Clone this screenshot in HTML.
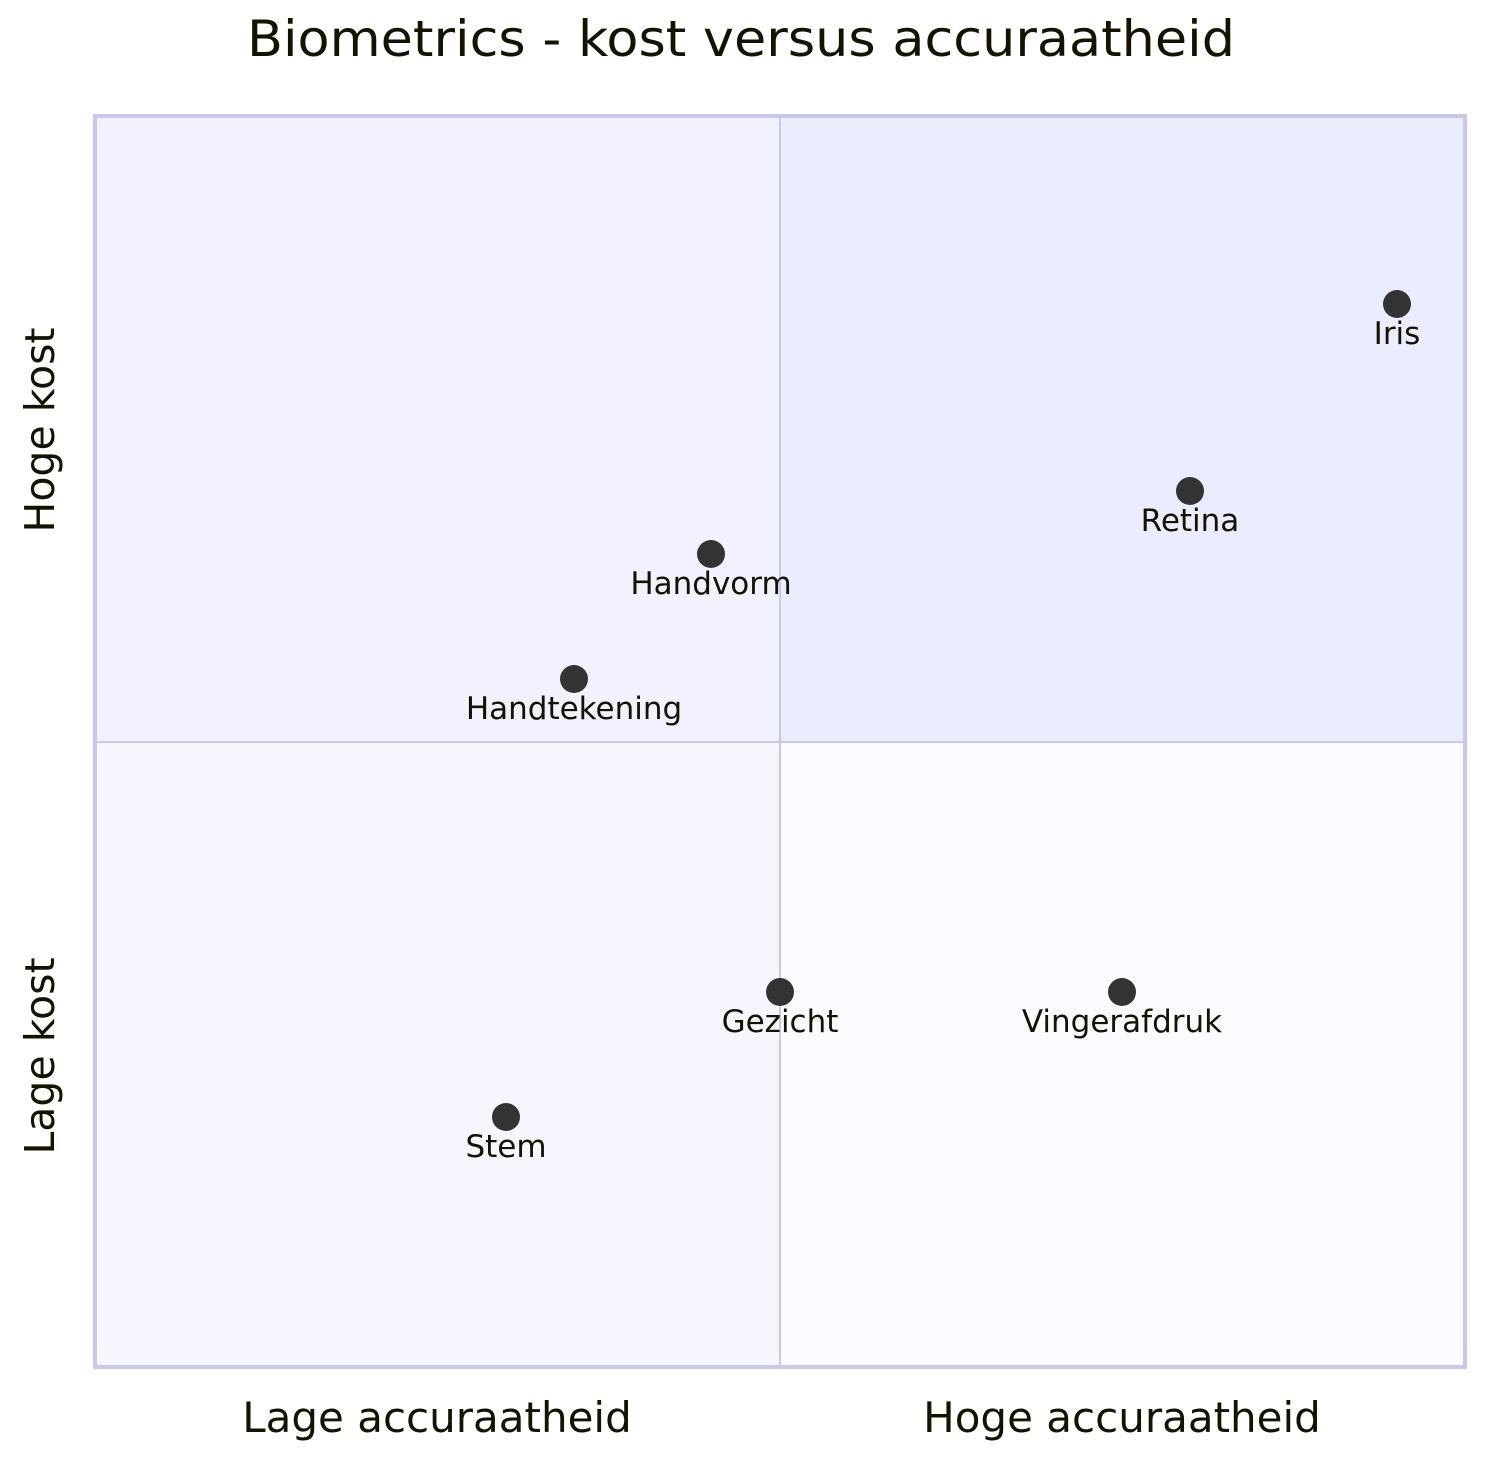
<!DOCTYPE html>
<html><head><meta charset="utf-8"><style>
html,body{margin:0;padding:0;background:#fff}
svg{display:block}
text{font-family:"DejaVu Sans","Liberation Sans",sans-serif;fill:#131300}
</style></head><body>
<svg width="1505" height="1464" viewBox="0 0 1505 1464" xmlns="http://www.w3.org/2000/svg">
<rect width="1505" height="1464" fill="#fff"/>
<text x="741" y="56" font-size="50" text-anchor="middle" textLength="988" lengthAdjust="spacingAndGlyphs">Biometrics - kost versus accuraatheid</text>
<rect x="95" y="116" width="685" height="626" fill="#F1F1FF"/>
<rect x="780" y="116" width="685" height="626" fill="#ECECFF"/>
<rect x="95" y="742" width="685" height="625" fill="#F6F6FF"/>
<rect x="780" y="742" width="685" height="625" fill="#FBFBFF"/>
<line x1="780" y1="116" x2="780" y2="1367" stroke="#C7C7F1" stroke-width="2"/>
<line x1="95" y1="742" x2="1465" y2="742" stroke="#C7C7F1" stroke-width="2"/>
<rect x="95" y="116" width="1370" height="1251" fill="none" stroke="#C7C7F1" stroke-width="4"/>
<text x="437" y="1432" font-size="42" text-anchor="middle">Lage accuraatheid</text>
<text x="1122" y="1432" font-size="42" text-anchor="middle">Hoge accuraatheid</text>
<text transform="translate(54,430) rotate(-90)" font-size="41" text-anchor="middle">Hoge kost</text>
<text transform="translate(54,1056) rotate(-90)" font-size="41" text-anchor="middle">Lage kost</text>
<g fill="#333">
<circle cx="1397" cy="304" r="14"/>
<circle cx="1190" cy="491" r="14"/>
<circle cx="711" cy="554" r="14"/>
<circle cx="574" cy="679" r="14"/>
<circle cx="780" cy="992" r="14"/>
<circle cx="1122" cy="992" r="14"/>
<circle cx="506" cy="1117" r="14"/>
</g>
<g font-size="31" text-anchor="middle">
<text x="1397" y="344">Iris</text>
<text x="1190" y="531">Retina</text>
<text x="711" y="594">Handvorm</text>
<text x="574" y="719">Handtekening</text>
<text x="780" y="1032">Gezicht</text>
<text x="1122" y="1032">Vingerafdruk</text>
<text x="506" y="1157">Stem</text>
</g>
</svg>
</body></html>
